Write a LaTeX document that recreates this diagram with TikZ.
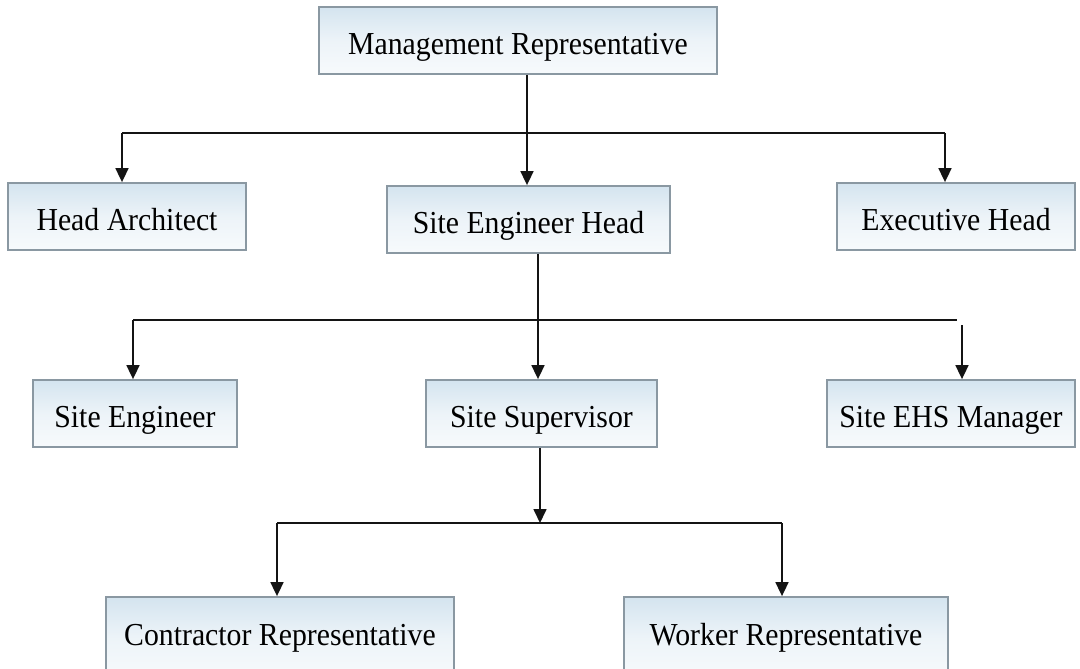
\documentclass[tikz,border=0pt]{standalone}
\usepackage{fontspec}
\setmainfont{Liberation Serif}
\newfontfamily\boxfont[FakeStretch=0.93]{Liberation Serif}
\usetikzlibrary{arrows.meta}
\definecolor{boxedge}{RGB}{138,152,162}
\definecolor{boxtop}{RGB}{212,228,239}
\definecolor{boxbot}{RGB}{247,250,252}
\definecolor{linecol}{RGB}{20,20,20}
\tikzset{
  boxtext/.style={inner sep=0pt, text height=28pt, text depth=0pt,
    font=\boxfont\fontsize{32}{36}\selectfont, text=black},
  orgbox/.style={boxtext, draw=boxedge, line width=1.8pt, top color=boxtop, bottom color=boxbot,
    middle color=boxbot!70!boxtop, minimum height=67pt},
  conn/.style={draw=linecol, line width=1.7pt},
  arr/.style={conn, -{Triangle[length=14pt,width=13pt]}}
}
\begin{document}
\begin{tikzpicture}[x=1pt,y=-1pt]
\useasboundingbox (0,0) rectangle (1080,669);
\clip (0,0) rectangle (1080,669);
\fill[white] (0,0) rectangle (1080,669);
% nodes
\node[orgbox, minimum width=398pt] (mr) at (518,40.5) {Management Representative};
\node[orgbox, minimum width=238pt] (ha) at (127,216.5) {Head Architect};
\node[orgbox, minimum width=283pt] (seh) at (528.5,219.5) {Site Engineer Head};
\node[orgbox, minimum width=238pt] (eh) at (956,216.5) {Executive Head};
\node[orgbox, minimum width=204pt] (se) at (135,413.5) {Site Engineer};
\node[orgbox, minimum width=231pt] (ss) at (541.5,413.5) {Site Supervisor};
\node[orgbox, minimum width=248pt] (ehs) at (951,413.5) {Site EHS Manager};
\node[orgbox, minimum width=348pt, minimum height=80pt] (cr) at (280,637) {};
\node[boxtext] (crt) at (280,631) {Contractor Representative};
\node[orgbox, minimum width=324pt, minimum height=80pt] (wr) at (786,637) {};
\node[boxtext] (wrt) at (786,631) {Worker Representative};
% level 1 bus
\coordinate (j1) at (527,133);
\coordinate (b1L) at (122,133);
\coordinate (b1R) at (945,133);
\draw[conn] (mr.south -| j1) -- (j1);
\draw[conn] (b1L) -- (b1R);
\draw[arr] (b1L) -- (ha.north -| b1L);
\draw[arr] (j1) -- (seh.north -| j1);
\draw[arr] (b1R) -- (eh.north -| b1R);
% level 2 bus
\coordinate (j2) at (538,320);
\coordinate (b2L) at (133,320);
\coordinate (b2R) at (957,320);
\coordinate (ehstop) at (962,325);
\draw[conn] (seh.south -| j2) -- (j2);
\draw[conn] (b2L) -- (b2R);
\draw[arr] (b2L) -- (se.north -| b2L);
\draw[arr] (j2) -- (ss.north -| j2);
\draw[arr] (ehstop) -- (ehs.north -| ehstop);
% level 3 bus
\coordinate (j3) at (540,523);
\coordinate (b3L) at (277,523);
\coordinate (b3R) at (782,523);
\draw[arr] (ss.south -| j3) -- (j3);
\draw[conn] (b3L) -- (b3R);
\draw[arr] (b3L) -- (cr.north -| b3L);
\draw[arr] (b3R) -- (wr.north -| b3R);
\end{tikzpicture}
\end{document}
